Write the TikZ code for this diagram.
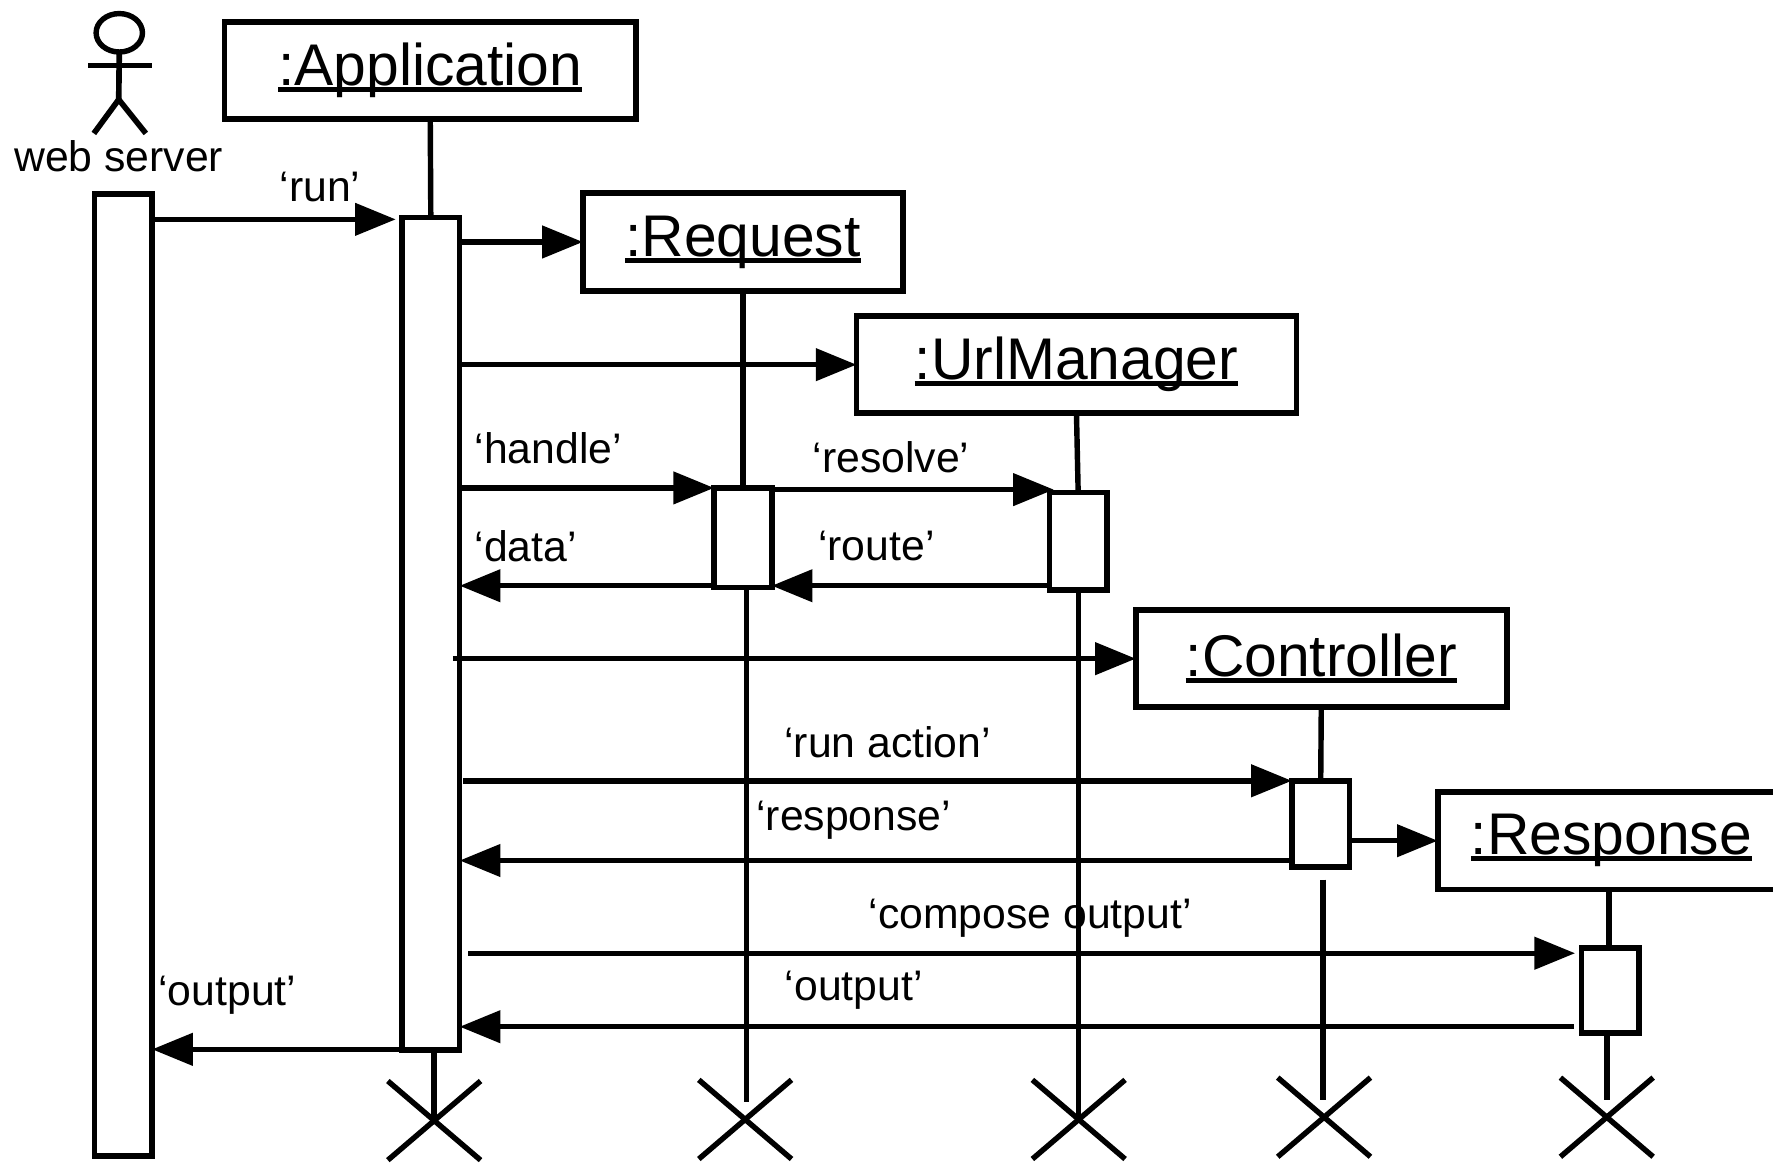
\documentclass[tikz,border=0pt]{standalone}
\usepackage{fontspec}
\setmainfont{Liberation Sans}
\usetikzlibrary{arrows.meta,calc,shapes.geometric}
\tikzset{
  x=0.5pt,y=-0.5pt,
  every path/.style={line width=2.5pt,black},
  objbox/.style={draw,line width=2.5pt,inner sep=0pt,outer sep=0pt,font=\fontsize{26}{30}\selectfont,anchor=center},
  actbar/.style={draw,fill=white,line width=2.5pt,inner sep=0pt,outer sep=0pt,minimum width=25.5pt},
  msg/.style={-{Triangle[length=18pt,width=14pt]},line width=2.4pt},
  life/.style={line width=2.4pt},
  lbl/.style={font=\fontsize{18.9}{22}\selectfont,inner sep=0pt,anchor=center},
  crossmark/.style={line width=2.4pt},
}
\newcommand{\thickul}[1]{\setbox0\hbox{#1}\rlap{\lower0.7pt\copy0}\rlap{\raisebox{-3.6pt}{\rule{\wd0}{2.2pt}}}\kern\wd0\relax}
\newcommand{\objnode}[6]{\node[objbox,minimum width=#4*0.5pt,minimum height=#5*0.5pt] (#1) at (#2,#3) {\thickul{#6}};}
\newcommand{\barnode}[4]{\node[actbar,minimum height=#4*0.5pt] (#1) at (#2,#3) {};}
\begin{document}
\begin{tikzpicture}
\useasboundingbox (0,0) rectangle (1568,1028);
\coordinate (appx) at (384,991);
\coordinate (reqx) at (659,990);
\coordinate (urlx) at (954,990);
\coordinate (ctlx) at (1171,988);
\coordinate (resx) at (1421,988);
\coordinate (ctlgap) at (1170,778);
\coordinate (reqtail) at (660,975);
\coordinate (ctltail) at (1170,973);
\coordinate (restail) at (1421,973);
% objects
\objnode{app}{380.5}{62.5}{364}{86}{:Application}
\objnode{req}{657}{214}{283}{87}{:Request}
\objnode{url}{952}{322.5}{389}{86}{:UrlManager}
\objnode{ctl}{1168.5}{582.5}{328}{86}{:Controller}
\objnode{res}{1425}{743.5}{307}{86}{:Response}
% bars
\barnode{web}{109}{597}{851}
\barnode{appb}{381}{560.5}{736}
\barnode{reqb}{657}{475.5}{88}
\barnode{urlb}{953.5}{478.5}{86}
\barnode{ctlb}{1168}{728.5}{76}
\barnode{resb}{1424}{876}{75}
% lifelines
\draw[life] (app.south) -- (appb.north);
\draw[life] (appb.south -| appx) -- (appx);
\draw[life] (req.south) -- (reqb.north);
\draw[life] (reqb.south -| reqtail) -- (reqtail);
\draw[life] (url.south) -- (urlb.north);
\draw[life] (urlb.south -| urlx) -- (urlx);
\draw[life] (ctl.south) -- (ctlb.north);
\draw[life] (ctlgap) -- (ctltail);
\draw[life] (res.south -| 1423,0) -- (resb.north -| 1423,0);
\draw[life] (resb.south -| restail) -- (restail);
% crosses
\foreach \c in {appx,reqx,urlx,ctlx,resx}{
  \draw[crossmark] ($(\c)+(-41,-35)$) -- ($(\c)+(41,35)$);
  \draw[crossmark] ($(\c)+(-41,35)$) -- ($(\c)+(41,-35)$);
}
% actor
\node[draw,ellipse,line width=2.4pt,outer sep=0pt,minimum width=20.5pt,minimum height=17pt,inner sep=0pt] (head) at (105.5,29) {};
\coordinate (hip) at (105,88);
\coordinate (larm) at (78,58);
\coordinate (rarm) at (134,58);
\coordinate (lfoot) at (83,118);
\coordinate (rfoot) at (129,118);
\draw (head.south) -- (hip);
\draw (larm) -- (rarm);
\draw (lfoot) -- (hip) -- (rfoot);
\node[lbl] (wslabel) at (105,138) {web server};
% messages
\draw[msg] (web.east |- 0,194) -- (350,194);
\draw[msg] (appb.east |- req.west) -- (req.west);
\draw[msg] (appb.east |- url.west) -- (url.west);
\draw[msg] (appb.east |- reqb.north) -- (reqb.north west);
\draw[msg] (reqb.east |- 0,433) -- (932,433);
\draw[msg] (urlb.west |- 0,518) -- (reqb.east |- 0,518);
\draw[msg] (reqb.west |- 0,518) -- (appb.east |- 0,518);
\draw[msg] ($(appb.east |- ctl.west)+(-6,0)$) -- (ctl.west);
\draw[msg] ($(appb.east |- ctlb.north)+(3,0)$) -- (ctlb.north west);
\draw[msg] (1140,761) -- (appb.east |- 0,761);
\draw[msg] (ctlb.east |- res.west) -- (res.west);
\draw[msg] (414,843) -- (1393,843);
\draw[msg] (1392,908) -- (appb.east |- 0,908);
\draw[msg] (appb.west |- 0,928) -- (web.east |- 0,928);
% labels
\node[lbl] (l1) at (283,165) {‘run’};
\node[lbl] (l2) at (485,396) {‘handle’};
\node[lbl] (l3) at (788,404) {‘resolve’};
\node[lbl] (l4) at (465,483) {‘data’};
\node[lbl] (l5) at (775,483) {‘route’};
\node[lbl] (l6) at (785,656) {‘run action’};
\node[lbl] (l7) at (755,725) {‘response’};
\node[lbl] (l8) at (911,812) {‘compose output’};
\node[lbl] (l9) at (755,876) {‘output’};
\node[lbl] (l10) at (201,880) {‘output’};
\end{tikzpicture}
\end{document}
